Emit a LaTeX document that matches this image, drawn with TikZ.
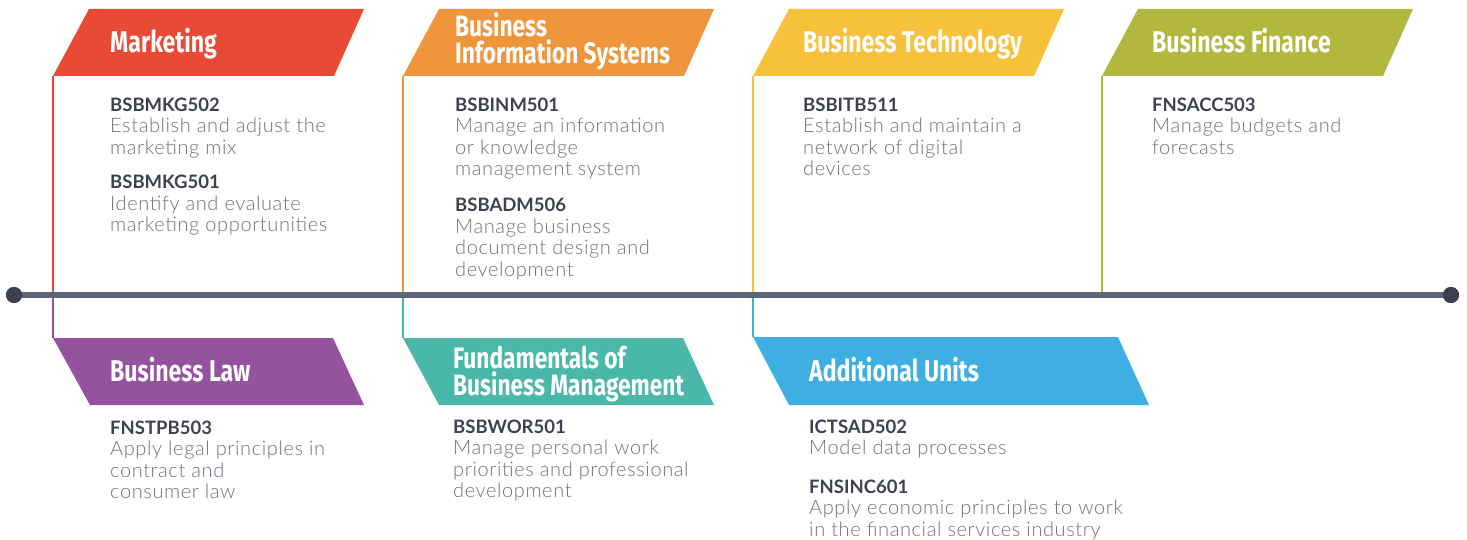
\documentclass[tikz,border=0pt]{standalone}
\usepackage{fontspec}
\setmainfont{Lato}
\newfontfamily\descfont[LetterSpace=3]{Lato Light}
\newfontfamily\headfont[FakeStretch=0.77]{Fira Sans}
\definecolor{cred}{HTML}{E84A35}
\definecolor{corange}{HTML}{EF963D}
\definecolor{cyellow}{HTML}{F7C13B}
\definecolor{colive}{HTML}{B1B83D}
\definecolor{cpurple}{HTML}{94529F}
\definecolor{cteal}{HTML}{4AB8A8}
\definecolor{cblue}{HTML}{3DAFE3}
\definecolor{tline}{HTML}{5F6578}
\definecolor{tdot}{HTML}{3B3F4F}
\definecolor{codec}{HTML}{3D4150}
\definecolor{descc}{HTML}{6E7180}
\newcommand\ucode[1]{{\rmfamily\bfseries\fontsize{18.5}{21.5}\selectfont\color{codec}#1}}
\tikzset{
  head/.style={anchor=base west, inner sep=0pt, text=white,
    font=\headfont\bfseries\fontsize{30}{27}\selectfont},
  headtwo/.style={head, font=\headfont\bfseries\fontsize{29.5}{27}\selectfont},
  unit/.style={anchor=base west, inner sep=0pt, text=descc,
    font=\descfont\fontsize{20}{21.5}\selectfont},
  conn/.style={draw=#1, line width=2.5pt},
  dotc/.style={circle, fill=tdot, minimum size=16pt, inner sep=0pt},
}
\begin{document}
\begin{tikzpicture}[x=1pt,y=-1pt]
\useasboundingbox (0,0) rectangle (1467,540);
% timeline anchors
\coordinate (t1) at (53,295);
\coordinate (t2) at (403,295);
\coordinate (t3) at (753,295);
\coordinate (t4) at (1102,295);
% banner corners
\coordinate (b1) at (53,76);
\coordinate (b2) at (403,76);
\coordinate (b3) at (753,76);
\coordinate (b4) at (1102,76);
\coordinate (c1) at (53,338);
\coordinate (c2) at (403,338);
\coordinate (c3) at (753,337);
% connectors
\draw[conn=cred] (b1) -- (t1);
\draw[conn=corange] (b2) -- (t2);
\draw[conn=cyellow] (b3) -- (t3);
\draw[conn=colive] (b4) -- (t4);
\draw[conn=cpurple] (t1) -- (c1);
\draw[conn=cteal] (t2) -- (c2);
\draw[conn=cblue] (t3) -- (c3);
% timeline
\node[dotc] (dl) at (14,295) {};
\node[dotc] (dr) at (1451,295) {};
\draw[tline, line width=5.5pt] (dl.center) -- (dr.center);
\node[dotc] at (dl.center) {};
\node[dotc] at (dr.center) {};
% top banners
\fill[cred] (89,9) -- (364,9) -- (334,76) -- (53,76) -- cycle;
\fill[corange] (439,9) -- (714,9) -- (684,76) -- (403,76) -- cycle;
\fill[cyellow] (789,9) -- (1064,9) -- (1034,76) -- (753,76) -- cycle;
\fill[colive] (1138,9) -- (1413,9) -- (1383,76) -- (1102,76) -- cycle;
% bottom banners
\fill[cpurple] (53,338) -- (333,338) -- (364,405) -- (90,405) -- cycle;
\fill[cteal] (403,338) -- (683,338) -- (714,405) -- (439,405) -- cycle;
\fill[cblue] (753,337) -- (1118,337) -- (1149,405) -- (789,405) -- cycle;
% headings
\node[head] (h1) at (110,52.5) {Marketing};
\node[headtwo] (h2) at (455,36.5) {\begin{tabular}[t]{@{}l@{}}\smash{Business}\\ \smash{Information Systems}\end{tabular}};
\node[head] (h3) at (803,52.5) {Business Technology};
\node[head] (h4) at (1152,52.5) {Business Finance};
\node[head] (h5) at (110,381) {Business Law};
\node[headtwo] (h6) at (453,368) {\begin{tabular}[t]{@{}l@{}}\smash{Fundamentals of}\\ \smash{Business Management}\end{tabular}};
\node[head] (h7) at (809,381) {Additional Units};
% units
\node[unit] (u11) at (110,111.5) {\begin{tabular}[t]{@{}l@{}}\ucode{BSBMKG502}\\ Establish and adjust the\\ marketing mix\end{tabular}};
\node[unit] (u12) at (110,189) {\begin{tabular}[t]{@{}l@{}}\ucode{BSBMKG501}\\ Identify and evaluate\\ marketing opportunities\end{tabular}};
\node[unit] (u21) at (455,111.5) {\begin{tabular}[t]{@{}l@{}}\ucode{BSBINM501}\\ Manage an information\\ or knowledge\\ management system\end{tabular}};
\node[unit] (u22) at (455,211.5) {\begin{tabular}[t]{@{}l@{}}\ucode{BSBADM506}\\ Manage business\\ document design and\\ development\end{tabular}};
\node[unit] (u31) at (803,111.5) {\begin{tabular}[t]{@{}l@{}}\ucode{BSBITB511}\\ Establish and maintain a\\ network of digital\\ devices\end{tabular}};
\node[unit] (u41) at (1152,111.5) {\begin{tabular}[t]{@{}l@{}}\ucode{FNSACC503}\\ Manage budgets and\\ forecasts\end{tabular}};
\node[unit] (u51) at (110,434) {\begin{tabular}[t]{@{}l@{}}\ucode{FNSTPB503}\\ Apply legal principles in\\ contract and\\ consumer law\end{tabular}};
\node[unit] (u61) at (453,433) {\begin{tabular}[t]{@{}l@{}}\ucode{BSBWOR501}\\ Manage personal work\\ priorities and professional\\ development\end{tabular}};
\node[unit] (u71) at (809,433) {\begin{tabular}[t]{@{}l@{}}\ucode{ICTSAD502}\\ Model data processes\end{tabular}};
\node[unit] (u72) at (809,493) {\begin{tabular}[t]{@{}l@{}}\ucode{FNSINC601}\\ Apply economic principles to work\\ in the financial services industry\end{tabular}};
\end{tikzpicture}
\end{document}
